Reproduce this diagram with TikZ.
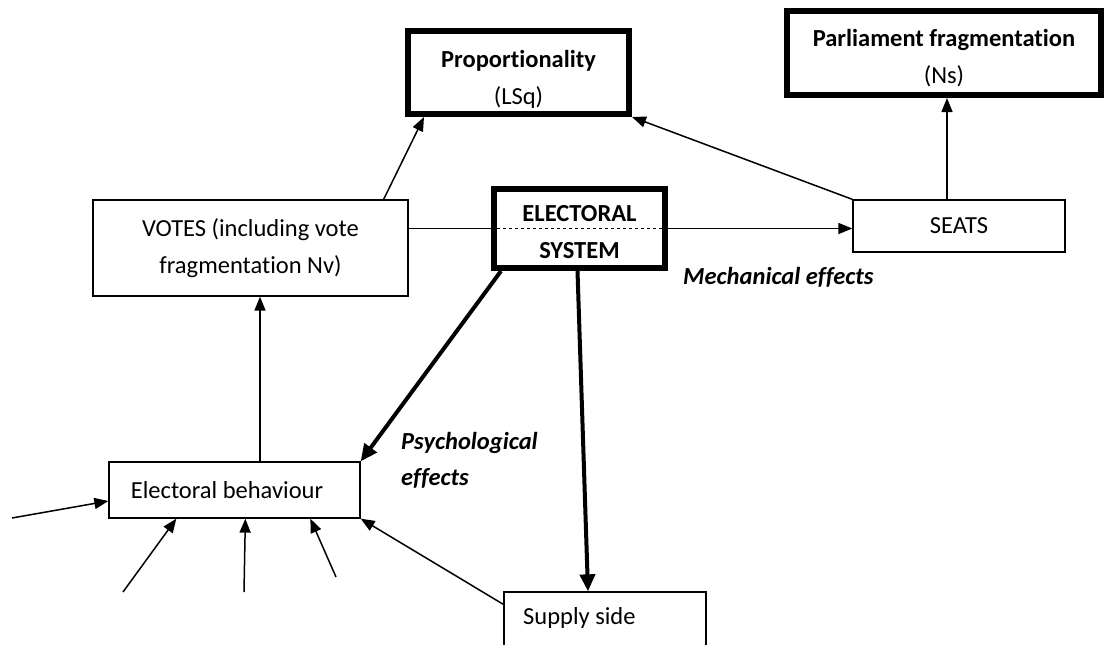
\documentclass[tikz,border=0pt]{standalone}
\usepackage{fontspec}
\setmainfont{Carlito}[Ligatures=NoCommon]
\usetikzlibrary{arrows.meta,calc}
\newcommand{\tallstrut}[1]{\rule{0pt}{#1}}
\begin{document}
\begin{tikzpicture}[x=1pt,y=-1pt,
  txt/.style={font=\fontsize{24.5}{37}\selectfont},
  thinbox/.style={draw, line width=1.3pt, inner sep=0pt, align=center, txt},
  thickbox/.style={draw, line width=6pt, inner sep=0pt, align=center, txt},
  thinarrow/.style={line width=1.5pt, -{Triangle[length=14pt,width=11pt]}},
  thickarrow/.style={line width=4pt, -{Triangle[length=17pt,width=15pt]}},
  effect/.style={font=\fontsize{24.5}{36}\selectfont\bfseries\itshape, inner sep=0pt, align=left}
]
\clip (0,0) rectangle (1106,645);
\fill[white] (0,0) rectangle (1106,645);

% nodes
\node[thickbox, minimum width=221pt, minimum height=83pt] (prop) at (518.5,72.5)
  {\tallstrut{31pt}\textbf{Proportionality}\\(LSq)};
\node[thickbox, minimum width=314pt, minimum height=84pt] (parl) at (944,53)
  {\tallstrut{27pt}\textbf{Parliament fragmentation}\\(Ns)};
\node[thinbox, minimum width=212pt, minimum height=52pt] (seats) at (959,226) {SEATS};
\node[thinbox, minimum width=315pt, minimum height=96pt] (votes) at (250.5,248)
  {VOTES (including vote\\fragmentation Nv)};
\node[thickbox, minimum width=171pt, minimum height=79pt, font=\fontsize{24.5}{37}\selectfont\bfseries] (es) at (579.5,228.5)
  {\tallstrut{23pt}ELECTORAL\\SYSTEM};
\node[thinbox, minimum width=251pt, minimum height=56pt] (eb) at (234.5,490)
  {Electoral behaviour\hspace*{15pt}};
\node[thinbox, minimum width=202pt, minimum height=66pt] (supply) at (605,625) {};
\node[txt, anchor=west, inner sep=0pt] (supplytxt) at (523,618) {Supply side};

\node[effect, anchor=west] (mech) at (683,277) {Mechanical effects};
\node[effect, anchor=west] (psych) at (401,460) {Psychological\\effects};

% free ends
\coordinate (in1) at (12,518);
\coordinate (in2) at (123,592);
\coordinate (in3) at (244,592);
\coordinate (in4) at (336,577);

% connectors
\draw[line width=1.5pt] (votes.east |- es.west) -- (es.west);
\draw[line width=1.5pt, dashed] (es.west) -- (es.east);
\draw[thinarrow] (es.east) -- (seats.west |- es.east);

\draw[thinarrow] ([xshift=-25pt]votes.north east) -- ([xshift=19pt]prop.south west);
\draw[thinarrow] (seats.north west) -- (prop.south east);
\draw[thinarrow] ([xshift=-12pt]seats.north) -- ([xshift=-12pt]seats.north |- parl.south);

\draw[thickarrow] ([xshift=10pt]es.south west) -- (eb.north east);
\draw[thickarrow] ([xshift=-2pt]es.south) -- ([xshift=-17pt]supply.north);

\draw[thinarrow] ([xshift=25.5pt]eb.north) -- ([xshift=25.5pt]eb.north |- votes.south);
\draw[thinarrow] ([yshift=-13pt]supply.north west) -- (eb.south east);

\draw[thinarrow] (in1) -- ([yshift=-11pt]eb.west);
\draw[thinarrow] (in2) -- ([xshift=68pt]eb.south west);
\draw[thinarrow] (in3) -- ([xshift=137pt]eb.south west);
\draw[thinarrow] (in4) -- ([xshift=202pt]eb.south west);
\end{tikzpicture}
\end{document}
